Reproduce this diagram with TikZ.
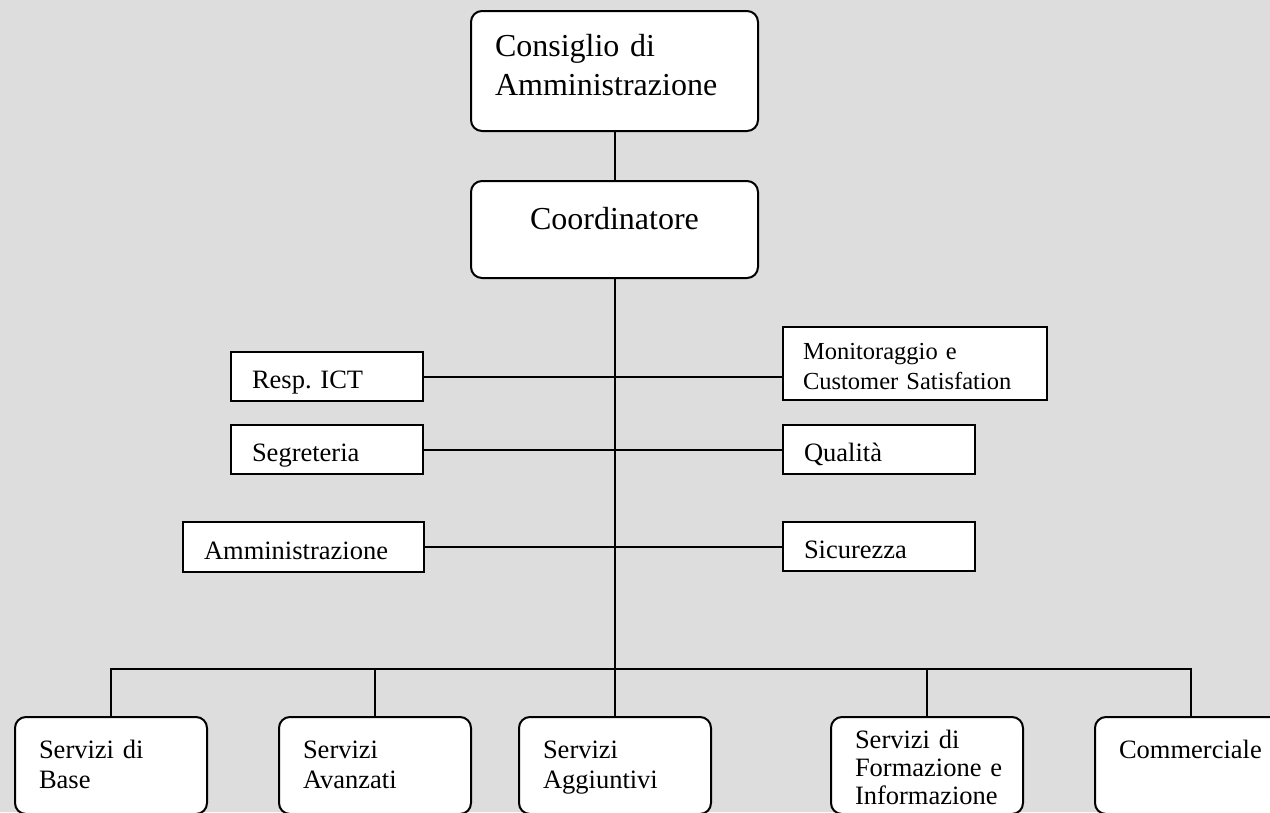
\documentclass[tikz,border=0pt]{standalone}
\usepackage{fontspec}
\setmainfont{Liberation Serif}
\definecolor{bggray}{RGB}{221,221,221}

\begin{document}
\begin{tikzpicture}[x=1pt, y=-1pt]
        % Define styles
        \tikzstyle{orgbox} = [rectangle, rounded corners=11pt, draw=black, fill=white, line width=2pt, anchor=north west, inner xsep=24pt, inner ysep=0pt, align=left, font=\fontsize{26.5}{30}\selectfont]
        \tikzstyle{topbox} = [orgbox, text width=239pt, font=\fontsize{32}{39}\selectfont]
        \tikzstyle{unitbox} = [orgbox, text width=144pt, text height=41pt, text depth=56pt]
        \tikzstyle{staffbox} = [rectangle, draw=black, fill=white, line width=2pt, anchor=north west, inner xsep=21pt, inner ysep=0pt, align=left, text width=150pt, text height=36pt, text depth=13pt, font=\fontsize{26.5}{30}\selectfont]
        \tikzstyle{link} = [draw=black, line width=2pt]

        % Background
        \fill[bggray] (0,0) rectangle (1270,812);
        \useasboundingbox (0,0) rectangle (1270,812);
        \clip (0,0) rectangle (1270,812);

        % Nodes
        \node [topbox, text height=45pt, text depth=75pt] (cda) at (470,10) {Consiglio di\\Amministrazione};
        \node [topbox, align=center, inner xsep=0pt, text width=287pt, text height=48pt, text depth=49pt] (coord) at (470,180) {Coordinatore};

        \node [staffbox] (ict) at (230,351) {Resp.\ ICT};
        \node [staffbox] (segr) at (230,424) {Segreteria};
        \node [staffbox, text width=199pt, text height=37pt] (amm) at (182,521) {Amministrazione};
        \node [staffbox, text width=224pt, inner xsep=20pt, text height=32pt, text depth=41pt, font=\fontsize{24.5}{30}\selectfont] (mon) at (782,326) {Monitoraggio e\\Customer Satisfation};
        \node [staffbox] (qual) at (782,424) {Qualità};
        \node [staffbox] (sic) at (782,521) {Sicurezza};

        \node [unitbox] (base) at (14,716) {Servizi di\\Base};
        \node [unitbox] (avanz) at (278,716) {Servizi\\Avanzati};
        \node [unitbox] (aggiunt) at (518,716) {Servizi\\Aggiuntivi};
        \node [unitbox, text height=31pt, text depth=66pt, font=\fontsize{26.5}{28}\selectfont] (formaz) at (830,716) {Servizi di\\Formazione~e\\Informazione};
        \node [unitbox] (comm) at (1094,716) {Commerciale};

        % Lines
        \path (coord.south) ++(0,390) coordinate (bus);
        \draw [link] (cda) -- (coord);
        \draw [link] (coord.south) -- (bus);
        \draw [link] (ict.east) -- (ict.east -| mon.west);
        \draw [link] (segr.east) -- (segr.east -| qual.west);
        \draw [link] (amm.east) -- (amm.east -| sic.west);
        \draw [link] (base.north) |- (comm.north |- bus) -- (comm.north);
        \foreach \n in {avanz,aggiunt,formaz}
            \draw [link] (bus -| \n.north) -- (\n.north);
    \end{tikzpicture}
\end{document}
